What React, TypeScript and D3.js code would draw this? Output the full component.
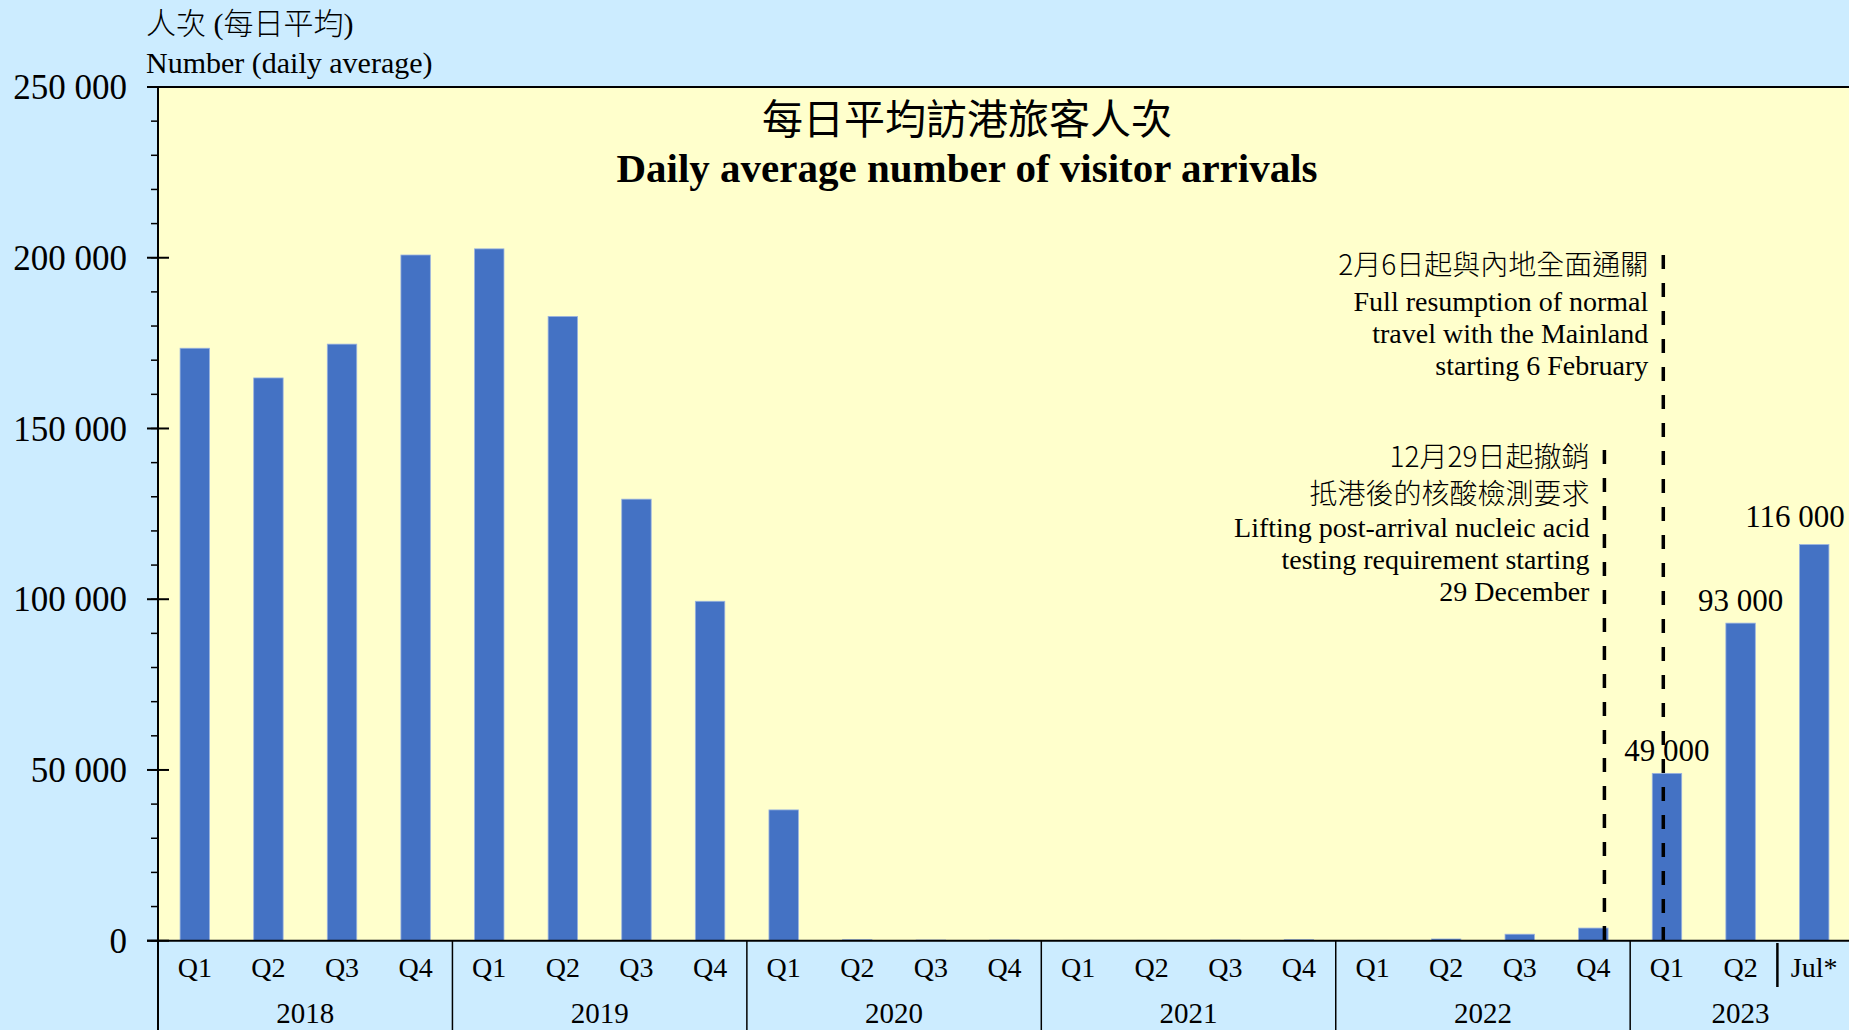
import React, { useEffect } from "react";
import * as d3 from "d3";

// ---------- data ----------
const years = ["2018", "2019", "2020", "2021", "2022", "2023"];
const periods = [
  "Q1", "Q2", "Q3", "Q4",
  "Q1", "Q2", "Q3", "Q4",
  "Q1", "Q2", "Q3", "Q4",
  "Q1", "Q2", "Q3", "Q4",
  "Q1", "Q2", "Q3", "Q4",
  "Q1", "Q2", "Jul*",
];
const periodYears = [
  "2018", "2018", "2018", "2018",
  "2019", "2019", "2019", "2019",
  "2020", "2020", "2020", "2020",
  "2021", "2021", "2021", "2021",
  "2022", "2022", "2022", "2022",
  "2023", "2023", "2023",
];
const values = [
  173500, 164800, 174700, 200800,
  202600, 182800, 129300, 99400,
  38300, 300, 200, 200,
  100, 100, 200, 300,
  100, 500, 1900, 3700,
  49000, 93000, 116000,
];
const labelledIndex = [20, 21, 22];
const yTicks = [0, 50000, 100000, 150000, 200000, 250000];
const yMinorTicks = d3.range(0, 250001, 10000);

const titleZh = "每日平均訪港旅客人次";
const titleEn = "Daily average number of visitor arrivals";
const yTitleZh = "人次 (每日平均)";
const yTitleEn = "Number (daily average)";

const eventCategory = [19, 20];
const eventFraction = [0.65, 0.45];
const eventTopValue = [143700, 200800];
const eventLines = [
  [
    { t: "12月29日起撤銷", zh: true },
    { t: "抵港後的核酸檢測要求", zh: true },
    { t: "Lifting post-arrival nucleic acid", zh: false },
    { t: "testing requirement starting", zh: false },
    { t: "29 December", zh: false },
  ],
  [
    { t: "2月6日起與內地全面通關", zh: true },
    { t: "Full resumption of normal", zh: false },
    { t: "travel with the Mainland", zh: false },
    { t: "starting 6 February", zh: false },
  ],
];

// ---------- layout ----------
const W = 1849;
const H = 1030;
const left = 158;
const right = 1851;
const top = 87;
const bottom = 940.7;
const FONT = "'Liberation Serif', 'Times New Roman', 'Noto Sans CJK TC', serif";
const ZH = "'Noto Sans CJK TC', 'Noto Sans CJK SC', sans-serif";

const fmt = d3.formatLocale({ decimal: ".", thousands: " ", grouping: [3], currency: ["", ""] }).format(",d");

export default function App() {
  useEffect(() => {
    document.body.style.margin = "0";
    document.body.style.background = "#CCECFF";
  }, []);

  const idx = d3.range(values.length).map(String);
  const x = d3.scaleBand<string>().domain(idx).range([left, right]).padding(0);
  const y = d3.scaleLinear().domain([0, 250000]).range([bottom, top]);
  const bw = x.bandwidth();
  const barW = bw * 0.4;

  const yearGroups = years.map((yr) => {
    const members = idx.filter((i) => periodYears[+i] === yr);
    const x0 = x(members[0])!;
    const x1 = x(members[members.length - 1])! + bw;
    return { yr, x0, x1 };
  });

  const julIdx = periods.indexOf("Jul*");

  return (
    <svg width={W} height={H} style={{ position: "absolute", left: 0, top: 0, display: "block" }} fontFamily={FONT}>
      <rect x={0} y={0} width={W} height={H} fill="#CCECFF" />
      <rect x={left} y={top} width={W - left} height={bottom - top} fill="#FFFFCC" />

      {/* titles */}
      <text x={967} y={134} textAnchor="middle" fontSize={41} fontFamily={ZH} fontWeight={400} fill="#000">{titleZh}</text>
      <text x={967} y={182} textAnchor="middle" fontSize={41} fontWeight="bold" fill="#000">{titleEn}</text>

      {/* y title */}
      <text x={146} y={34} fontSize={30} fill="#000">
        <tspan fontFamily={ZH} fontWeight={300}>{yTitleZh.slice(0, 2)}</tspan>
        <tspan> (</tspan>
        <tspan fontFamily={ZH} fontWeight={300}>{yTitleZh.slice(4, 8)}</tspan>
        <tspan>)</tspan>
      </text>
      <text x={146} y={73} fontSize={30} fill="#000">{yTitleEn}</text>

      {/* bars */}
      {values.map((v, i) => (
        <rect
          key={i}
          x={x(String(i))! + (bw - barW) / 2}
          y={y(v)}
          width={barW}
          height={bottom - y(v)}
          fill="#4472C4"
          stroke="#9AB3E0"
          strokeWidth={0.8}
        />
      ))}

      {/* value labels */}
      {labelledIndex.map((i) => {
        const cx = x(String(i))! + bw / 2;
        const lx = Math.min(cx, W - 54);
        const gap = i === 22 ? 18 : 12;
        return (
          <text key={i} x={lx} y={y(values[i]) - gap} textAnchor="middle" fontSize={31} fill="#000">
            {fmt(values[i])}
          </text>
        );
      })}

      {/* event lines and notes */}
      {eventCategory.map((c, k) => {
        const lxp = x(String(c))! + eventFraction[k] * bw;
        const yTop = y(eventTopValue[k]);
        let base = yTop + (k === 0 ? 17 : 20);
        const items = eventLines[k].map((ln, j) => {
          if (j > 0) base += eventLines[k][j - 1].zh ? (ln.zh ? 37 : k === 1 ? 36 : 33) : 32;
          return (
            <text key={j} x={lxp - 15} y={base} textAnchor="end" fontSize={28} fontFamily={ln.zh ? ZH : FONT} fontWeight={ln.zh ? 300 : 400} fill="#000">
              {ln.t}
            </text>
          );
        });
        return (
          <g key={k}>
            <line x1={lxp} x2={lxp} y1={yTop} y2={bottom} stroke="#000" strokeWidth={3.5} strokeDasharray="14,14" />
            {items}
          </g>
        );
      })}

      {/* plot top border */}
      <line x1={147} x2={W} y1={top} y2={top} stroke="#000" strokeWidth={2} />

      {/* y axis */}
      <line x1={left} x2={left} y1={top} y2={H} stroke="#000" strokeWidth={2} />
      {yMinorTicks.map((t) => (
        <line key={"m" + t} x1={151} x2={left} y1={y(t)} y2={y(t)} stroke="#000" strokeWidth={1.5} />
      ))}
      {yTicks.map((t) => (
        <g key={t}>
          <line x1={147} x2={169} y1={y(t)} y2={y(t)} stroke="#000" strokeWidth={2} />
          <text x={127} y={y(t)} dy="0.35em" textAnchor="end" fontSize={35} fill="#000">{fmt(t)}</text>
        </g>
      ))}

      {/* x axis */}
      <line x1={147} x2={W} y1={bottom} y2={bottom} stroke="#000" strokeWidth={2} />
      {periods.map((p, i) => (
        <text key={i} x={x(String(i))! + bw / 2} y={977} textAnchor="middle" fontSize={28} fill="#000">{p}</text>
      ))}
      {yearGroups.map((g) => (
        <g key={g.yr}>
          <line x1={g.x1} x2={g.x1} y1={bottom} y2={H} stroke="#000" strokeWidth={1.5} />
          <text x={(g.x0 + g.x1) / 2} y={1023} textAnchor="middle" fontSize={29} fill="#000">{g.yr}</text>
        </g>
      ))}
      <line x1={x(String(julIdx))!} x2={x(String(julIdx))!} y1={943} y2={987} stroke="#000" strokeWidth={2.5} />
    </svg>
  );
}
